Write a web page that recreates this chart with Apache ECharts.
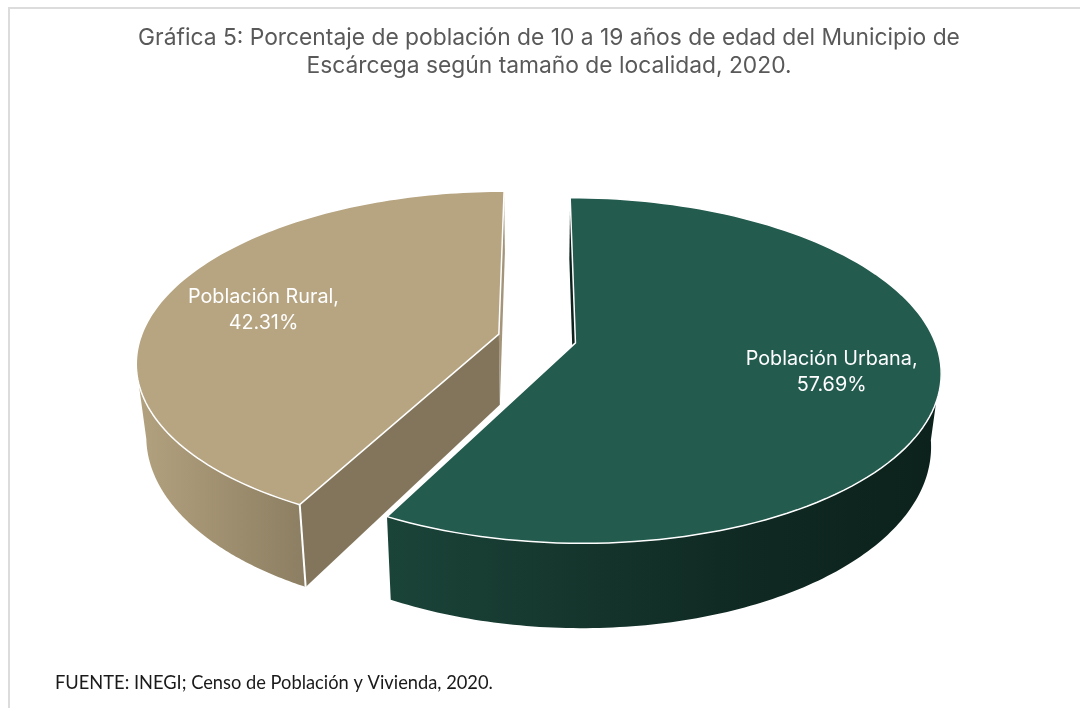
<!DOCTYPE html>
<html>
<head>
<meta charset="utf-8">
<style>html,body{margin:0;padding:0;background:#fff}#chart{width:1080px;height:708px}</style>
<script src="https://cdn.jsdelivr.net/npm/echarts@6/dist/echarts.min.js"></script>
</head>
<body>
<div id="chart"></div>
<script>
const categories = ['Población Rural', 'Población Urbana'];
const values = [42.31, 57.69];
const titleLines = 'Gráfica 5: Porcentaje de población de 10 a 19 años de edad del Municipio de\nEscárcega según tamaño de localidad, 2020.';
const sourceText = 'FUENTE: INEGI; Censo de Población y Vivienda, 2020.';

// perspective of the tilted pie
const CX = 537, CY = 338.5, RX = 358.5, RY = 167, K = 0.159;
const EXPLODE = 0.11, DEPTH = 71, SHRINK = 0.975;
const LABEL_R = [0.70, 0.71];
const LABEL_DY = [3, 0];

const topColors = ['#b7a582', '#235b4e'];
const wallStops = [
  [{ offset: 0, color: '#b3a27f' }, { offset: 1, color: '#8c7e62' }],
  [{ offset: 0, color: '#1b4439' }, { offset: 0.6, color: '#102b24' }, { offset: 1, color: '#0c211b' }]
];
const cutColors = ['#82755b', '#0c211b'];

const total = values[0] + values[1];
const urbanShare = values[1] / total * 2 * Math.PI;
// urbana starts at 12 o'clock and goes clockwise, rural closes the circle
const arcs = [[urbanShare, 2 * Math.PI], [0, urbanShare]];

function project(x, y) {
  const w = 1 / (1 + K * y);
  return [CX + RX * x * w, CY - RY * y * w];
}
function down(p, w) {
  return [CX + (p[0] - CX) * SHRINK, p[1] + DEPTH * w];
}
function slicePoint(i, r, a) {
  const mid = (arcs[i][0] + arcs[i][1]) / 2;
  return [EXPLODE * Math.sin(mid) + r * Math.sin(a), EXPLODE * Math.cos(mid) + r * Math.cos(a)];
}
function lifted(i, r, a) {
  const g = slicePoint(i, r, a);
  const p = project(g[0], g[1]);
  return down(p, 1 / (1 + K * g[1]));
}
function flat(i, r, a) {
  const g = slicePoint(i, r, a);
  return project(g[0], g[1]);
}
function arcPoints(i, fn, from, to) {
  const pts = [];
  const n = 120;
  for (let s = 0; s <= n; s++) pts.push(fn(i, 1, from + (to - from) * s / n));
  return pts;
}

function renderSlice(params, api) {
  const i = params.dataIndex;
  const a0 = arcs[i][0], a1 = arcs[i][1];
  const kids = [];
  const line = { stroke: '#fff', lineWidth: 1.5, lineJoin: 'round' };

  // outer wall, only the part facing the viewer
  const from = i === 0 ? a0 : Math.PI * 0.545;
  const to = i === 0 ? Math.PI * 1.44 : a1;
  const wallTop = arcPoints(i, flat, from, to);
  const wallBottom = arcPoints(i, lifted, from, to).reverse();
  kids.push({
    type: 'polygon',
    shape: { points: wallTop.concat(wallBottom) },
    style: {
      fill: new echarts.graphic.LinearGradient(0, 0, 1, 0, wallStops[i]),
      stroke: 'none'
    }
  });

  // cut faces
  const apexTop = flat(i, 0, 0), apexBottom = lifted(i, 0, 0);
  const straight = i === 0 ? a1 : a0;
  kids.push({
    type: 'polygon',
    shape: { points: [apexTop, flat(i, 1, straight), lifted(i, 1, straight), apexBottom] },
    style: { fill: i === 0 ? '#a3947a' : cutColors[1], stroke: 'none' }
  });
  if (i === 0) {
    kids.push({
      type: 'polygon',
      shape: { points: [apexTop, flat(i, 1, a0), lifted(i, 1, a0), apexBottom] },
      style: { fill: cutColors[0], stroke: 'none' }
    });
    kids.push({
      type: 'polyline',
      shape: { points: [flat(i, 1, a0), lifted(i, 1, a0)] },
      style: { stroke: '#fff', lineWidth: 2, fill: 'none' }
    });
  }

  // top face
  const rim = arcPoints(i, flat, a0, a1);
  kids.push({
    type: 'polygon',
    shape: { points: [apexTop].concat(rim) },
    style: Object.assign({ fill: topColors[i] }, line)
  });

  // label
  const mid = (a0 + a1) / 2;
  const lp = flat(i, LABEL_R[i], mid);
  kids.push({
    type: 'text',
    x: lp[0], y: lp[1] + LABEL_DY[i],
    style: {
      text: categories[i] + ',\n' + api.value(0).toFixed(2) + '%',
      fill: '#fff',
      font: '19.8px Inter',
      lineHeight: 26,
      align: 'center',
      verticalAlign: 'middle'
    }
  });
  return { type: 'group', children: kids };
}

const chart = echarts.init(document.getElementById('chart'));
chart.setOption({
  animation: false,
  backgroundColor: '#fff',
  title: [
    {
      text: titleLines,
      left: 549, top: 24, padding: 0, textAlign: 'center',
      textStyle: { fontFamily: 'Inter', fontSize: 22.8, fontWeight: 'normal', color: '#595959', lineHeight: 28 }
    },
    {
      text: sourceText,
      left: 55, top: 674, padding: 0,
      textStyle: { fontFamily: 'Lato', fontSize: 18.3, fontWeight: 'normal', color: '#1a1a1a' }
    }
  ],
  graphic: [{
    type: 'rect',
    shape: { x: 9, y: 8, width: 1100, height: 800 },
    style: { fill: 'none', stroke: '#dcdcdc', lineWidth: 2 },
    silent: true
  }],
  series: [{
    type: 'custom',
    coordinateSystem: 'none',
    renderItem: renderSlice,
    data: values.map((v, i) => ({ name: categories[i], value: [v] }))
  }]
});
</script>
</body>
</html>
